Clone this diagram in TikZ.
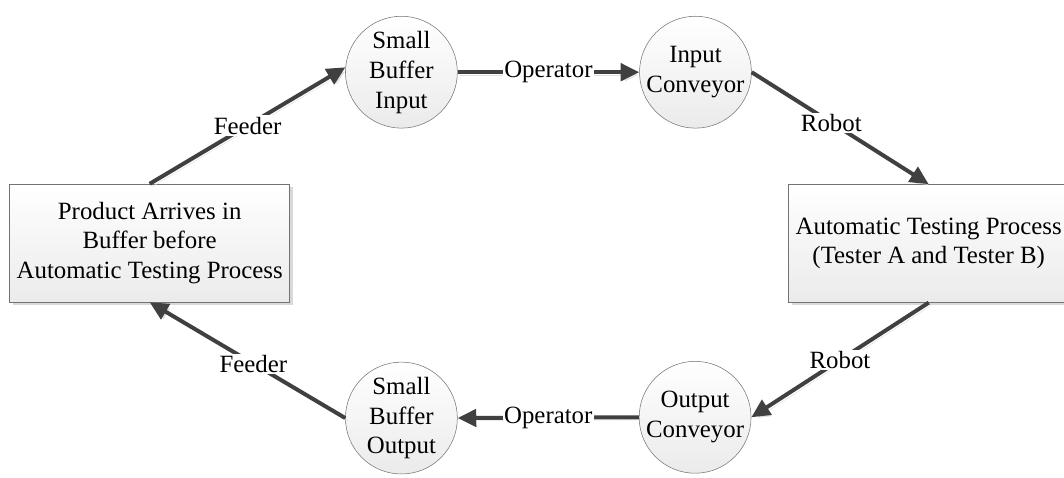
\documentclass[tikz,border=0pt]{standalone}
\usepackage{fontspec}
\setmainfont{Liberation Serif}
\usetikzlibrary{arrows.meta,shadows}

\tikzset{
	procbox/.style={draw=black!55, rectangle, minimum width=7.41cm, minimum height=3.12cm, align=center,
		top color=white, bottom color=black!8,
		drop shadow={opacity=0.3, shadow xshift=0.8mm, shadow yshift=-0.8mm}},
	bufcirc/.style={draw=black!55, circle, minimum size=2.96cm, inner sep=0pt, align=center,
		top color=white, bottom color=black!8},
	flow/.style={-{Triangle[length=14pt,width=13pt]}, line width=3pt, draw=black!75,
		preaction={draw=black!12, transform canvas={xshift=0.7mm,yshift=-0.7mm}}},
	lbl/.style={fill=white, inner sep=1pt}
}

\begin{document}
\begin{tikzpicture}[font=\fontsize{18.7}{22.5}\selectfont]
		\useasboundingbox (0,0) rectangle (28.15,-12.62);
		\node (box1) [procbox] at (3.96,-6.43) {Product Arrives in\\Buffer before\\Automatic Testing Process};
		\node (box2) [procbox] at (24.57,-6.44) {Automatic Testing Process\\(Tester A and Tester B)};
		\node (circ1) [bufcirc] at (10.62,-1.91) {Small\\Buffer\\Input};
		\node (circ2) [bufcirc] at (18.40,-1.91) {Input\\Conveyor};
		\node (circ3) [bufcirc] at (18.39,-11.04) {Output\\Conveyor};
		\node (circ4) [bufcirc] at (10.62,-11.06) {Small\\Buffer\\Output};

		% Arrows
		\draw[flow] (box1.north) -- node[lbl] {Feeder} (circ1.175);
		\draw[flow] (circ1.east) -- node[lbl] {Operator} (circ2.west);
		\draw[flow] (circ2.east) -- node[lbl, pos=0.45] {Robot} (box2.north);
		\draw[flow] (box2.south) -- node[lbl] {Robot} (circ3.east);
		\draw[flow] (circ3.west) -- node[lbl] {Operator} (circ4.east);
		\draw[flow] (circ4.west) -- node[lbl, pos=0.47] {Feeder} (box1.south);
	\end{tikzpicture}
\end{document}
